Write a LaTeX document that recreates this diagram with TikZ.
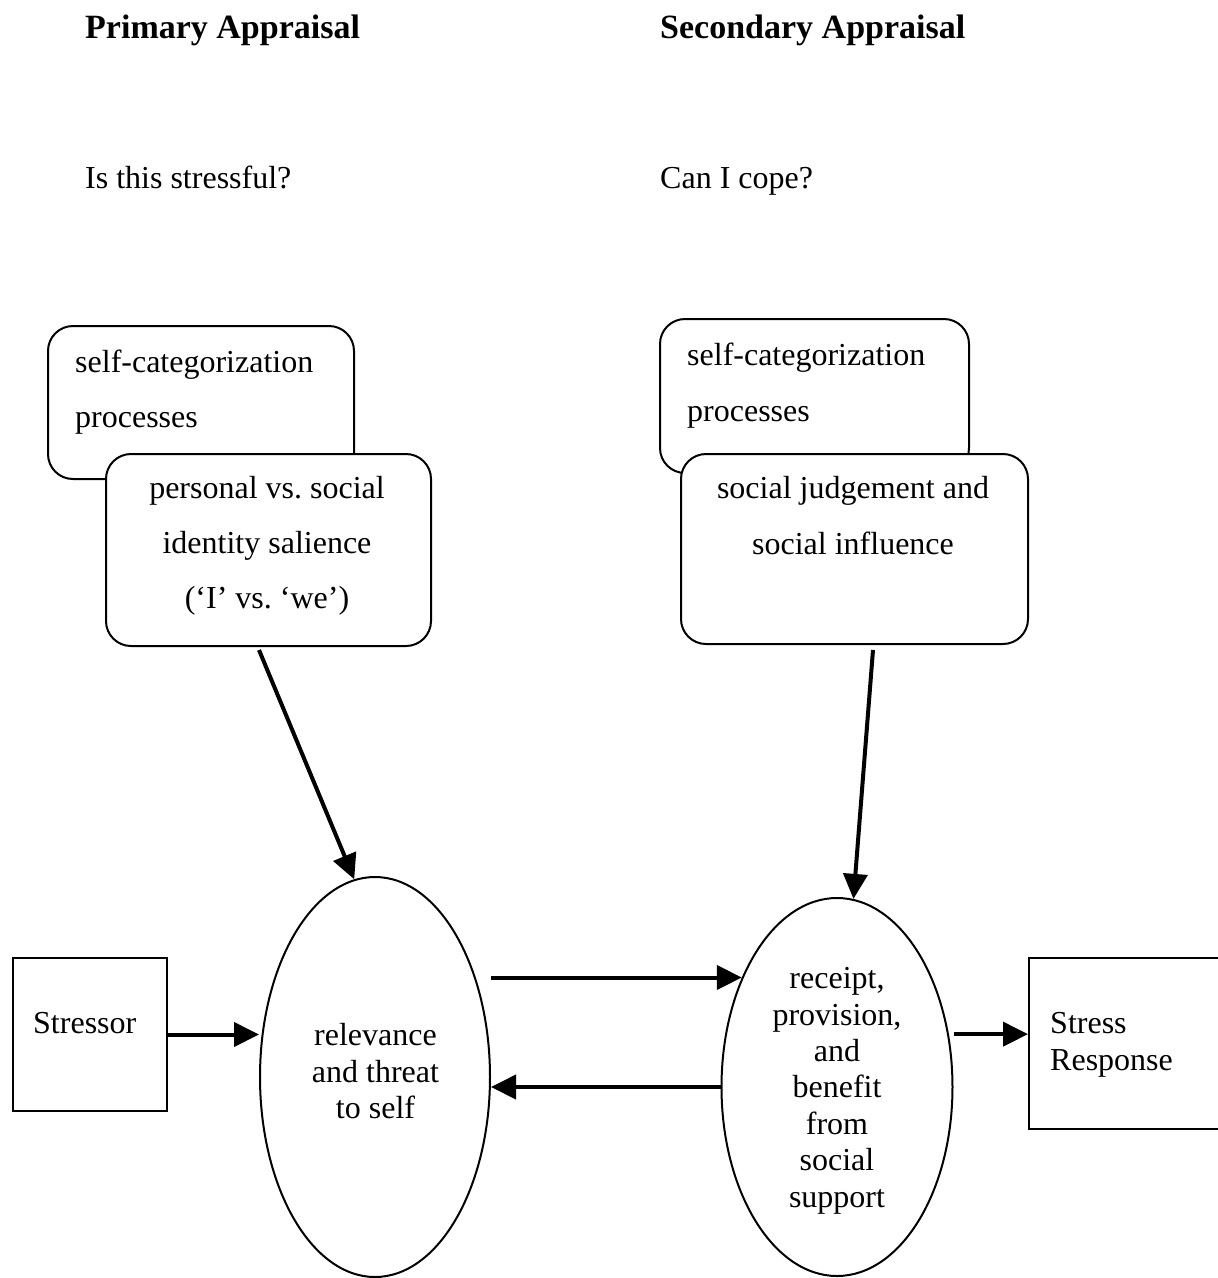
\documentclass[tikz,border=0pt]{standalone}
\usepackage{fontspec}
\setmainfont{Liberation Serif}
\usetikzlibrary{arrows.meta,shapes.geometric,calc}
\begin{document}
\begin{tikzpicture}[x=1pt,y=-1pt,
  txt/.style={inner sep=0pt, font=\fontsize{32}{36}\selectfont},
  head/.style={inner sep=0pt, font=\fontsize{34}{40}\selectfont\bfseries},
  rbox/.style={draw, line width=2pt, rounded corners=25pt, fill=white, inner sep=0pt, anchor=north west},
  sbox/.style={draw, line width=2pt, fill=white, inner sep=0pt, anchor=north west},
  ell/.style={draw, ellipse, line width=2pt, inner sep=0pt},
  arr/.style={line width=4pt, -{Triangle[length=25pt,width=24pt]}}]
\useasboundingbox (0,0) rectangle (1218,1278);
% headings
\node[head, anchor=base west] (h1) at (85,38) {Primary Appraisal};
\node[head, anchor=base west] (h2) at (660,38) {Secondary Appraisal};
\node[txt, anchor=base west] (q1) at (85,188) {Is this stressful?};
\node[txt, anchor=base west] (q2) at (660,188) {Can I cope?};
% left boxes
\node[rbox, minimum width=306pt, minimum height=153pt] (b1b) at (47,325) {};
\node[txt, anchor=base west] (b1t1) at (75,372) {self-categorization};
\node[txt, anchor=base west] (b1t2) at (75,427) {processes};
\node[rbox, minimum width=325pt, minimum height=192pt] (b1f) at (105,453) {};
\node[txt, anchor=base] (b1f1) at (267,498) {personal vs.\ social};
\node[txt, anchor=base] (b1f2) at (267,553) {identity salience};
\node[txt, anchor=base] (b1f3) at (267,608) {(`I' vs.\ `we')};
% right boxes
\node[rbox, minimum width=309pt, minimum height=154pt] (b2b) at (659,318) {};
\node[txt, anchor=base west] (b2t1) at (687,365) {self-categorization};
\node[txt, anchor=base west] (b2t2) at (687,421) {processes};
\node[rbox, minimum width=347pt, minimum height=190pt] (b2f) at (680,453) {};
\node[txt, anchor=base] (b2f1) at (853,498) {social judgement and};
\node[txt, anchor=base] (b2f2) at (853,554) {social influence};
% ellipses
\node[ell, minimum width=230pt, minimum height=400pt] (e1) at (375,1077) {};
\node[txt, anchor=base] (e1a) at (375.5,1045) {relevance};
\node[txt, anchor=base] (e1b) at (375.5,1082) {and threat};
\node[txt, anchor=base] (e1c) at (375.5,1118) {to self};
\node[ell, minimum width=231pt, minimum height=378pt] (e2) at (837,1087) {};
\node[txt, anchor=base] (e2a) at (837,988) {receipt,};
\node[txt, anchor=base] (e2b) at (837,1025) {provision,};
\node[txt, anchor=base] (e2c) at (837,1061) {and};
\node[txt, anchor=base] (e2d) at (837,1097) {benefit};
\node[txt, anchor=base] (e2e) at (837,1134) {from};
\node[txt, anchor=base] (e2f) at (837,1170) {social};
\node[txt, anchor=base] (e2g) at (837,1207) {support};
% side boxes
\node[sbox, minimum width=154pt, minimum height=153pt] (st) at (12,957) {};
\node[txt, anchor=base west] (stt) at (33,1033) {Stressor};
\node[sbox, minimum width=212pt, minimum height=171pt] (sr) at (1028,957) {};
\node[txt, anchor=base west] (srt1) at (1050,1033) {Stress};
\node[txt, anchor=base west] (srt2) at (1050,1070) {Response};
% arrows
\draw[arr] ($(b1f.south)+(-9.5,3)$) -- (e1.96);
\draw[arr] ($(b2f.south)+(18.5,5)$) -- (e2.85);
\draw[arr] (st.east) -- (st.east -| e1.west);
\draw[arr] (e2.131 -| e1.east) -- (e2.131);
\draw[arr] (e2.west) -- (e2.west -| e1.east);
\draw[arr] (e2.east |- sr.175) -- (sr.175);
\end{tikzpicture}
\end{document}
